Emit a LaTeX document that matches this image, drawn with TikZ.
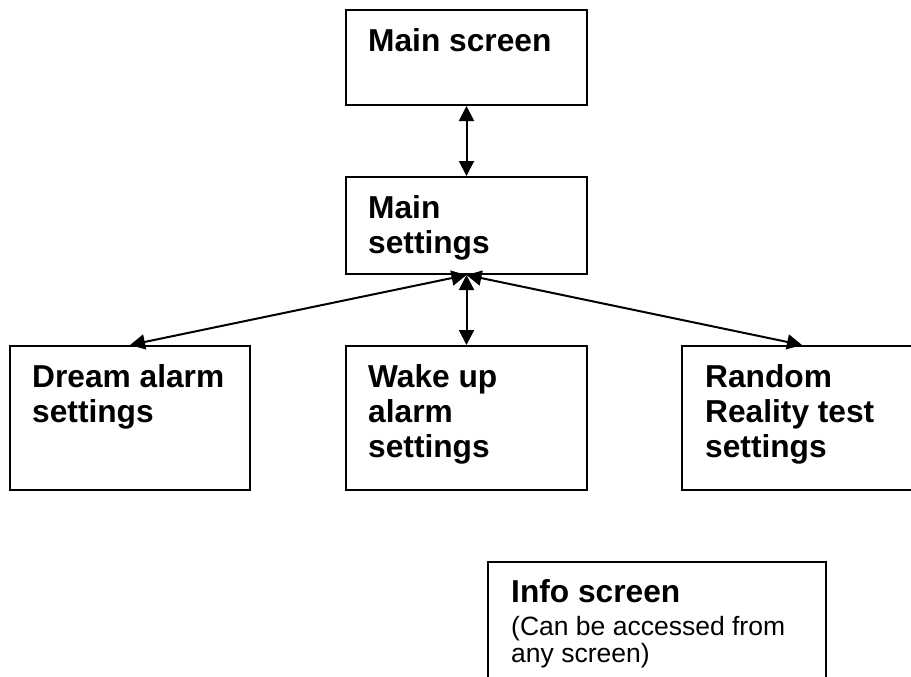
\documentclass[tikz,border=0pt]{standalone}
\usepackage{fontspec}
\setmainfont{Liberation Sans}
\usetikzlibrary{arrows.meta}

\tikzset{
  screenbox/.style={draw, line width=2pt, rectangle, inner sep=0pt},
  % labels are anchored at the baseline of their last line
  title/.style={anchor=base west, inner sep=0pt, align=left,
    font=\bfseries\fontsize{31.7}{35}\selectfont},
  note/.style={anchor=base west, inner sep=0pt, align=left,
    font=\fontsize{26.5}{27}\selectfont},
  link/.style={line width=2pt,
    {Triangle[length=15pt,width=15pt]}-{Triangle[length=15pt,width=15pt]}}
}

\begin{document}
\begin{tikzpicture}[x=1pt,y=-1pt]
  \useasboundingbox (0,0) rectangle (911,677);
  \fill[white] (0,0) rectangle (911,677);
  \clip (0,0) rectangle (911,677);

  % screens
  \node[screenbox, minimum width=241, minimum height=95]  (mainscreen)   at (466.5, 57.5) {};
  \node[screenbox, minimum width=241, minimum height=97]  (mainsettings) at (466.5,225.5) {};
  \node[screenbox, minimum width=240, minimum height=144] (dream)        at (130,418) {};
  \node[screenbox, minimum width=241, minimum height=144] (wake)         at (466.5,418) {};
  \node[screenbox, minimum width=240, minimum height=144] (random)       at (802,418) {};
  \node[screenbox, minimum width=338, minimum height=158] (info)         at (657,641) {};

  % labels
  \node[title] (tmainscreen)   at (368,52)  {Main screen};
  \node[title] (tmainsettings) at (368,253) {Main\\settings};
  \node[title] (tdream)        at (32,422)  {Dream alarm\\settings};
  \node[title] (twake)         at (368,457) {Wake up\\alarm\\settings};
  \node[title] (trandom)       at (705,457) {Random\\Reality test\\settings};
  \node[title] (tinfo)         at (511,602) {Info screen};
  \node[note]  (tinfonote)     at (511,662) {(Can be accessed from\\any screen)};

  % navigation
  \draw[link] (mainscreen.south) -- (mainsettings.north);
  \draw[link] (mainsettings.south) -- (wake.north);
  \draw[link] (mainsettings.south) -- (dream.north);
  \draw[link] (mainsettings.south) -- (random.north);
\end{tikzpicture}
\end{document}
